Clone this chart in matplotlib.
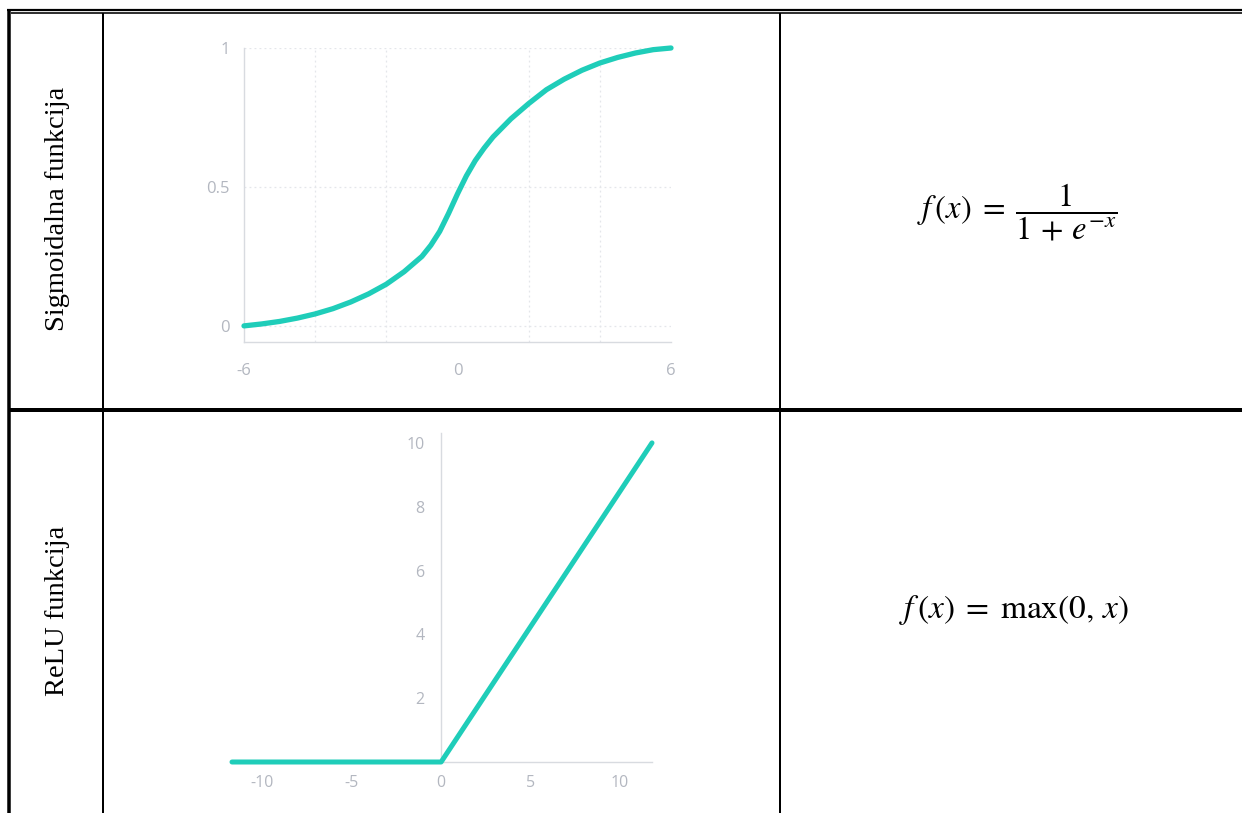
import matplotlib
matplotlib.use("Agg")
from matplotlib import pyplot as plt
from matplotlib.lines import Line2D

# values
sig_x = [-6, -5.5, -5, -4.5, -4, -3.5, -3, -2.5, -2, -1.5, -1, -0.75, -0.5, -0.25, 0,
         0.25, 0.5, 0.75, 1, 1.5, 2, 2.5, 3, 3.5, 4, 4.5, 5, 5.5, 6]
sig_y = [0.0, 0.007, 0.016, 0.028, 0.043, 0.062, 0.086, 0.115, 0.15, 0.195, 0.25, 0.29, 0.34, 0.405, 0.475,
         0.54, 0.595, 0.64, 0.68, 0.745, 0.8, 0.85, 0.888, 0.92, 0.946, 0.966, 0.982, 0.994, 1.0]
sig_xticks = [-6, 0, 6]
sig_yticks = [0, 0.5, 1]
sig_ytick_labels = ["0", "0.5", "1"]
sig_grid_x = [-4, -2, 0, 2, 4]

relu_x = [-11.7, 0, 11.8]
relu_y = [0, 0, 10]
relu_xticks = [-10, -5, 0, 5, 10]
relu_yticks = [2, 4, 6, 8, 10]

row_names = ["Sigmoidalna funkcija", "ReLU funkcija"]
formulas = [r"$f\,(x)\;=\;\dfrac{1}{1\,+\,e^{-x}}$", r"$f\,(x)\;=\;\max(0,\,x)$"]

W, H = 1242, 813
teal = "#1fcdb9"
tick_col = "#b3b7c0"
spine_col = "#d8dbe0"

plt.rcParams["mathtext.fontset"] = "stix"
plt.rcParams["axes.unicode_minus"] = False

fig = plt.figure(figsize=(W / 100, H / 100), dpi=100)


def fx(px):
    return px / W


def fy(py):
    return 1 - py / H


def hline(y, x0, x1, lw):
    fig.add_artist(Line2D([fx(x0), fx(x1)], [fy(y), fy(y)], color="black", lw=lw * 0.72,
                          solid_capstyle="butt"))


def vline(x, y0, y1, lw):
    fig.add_artist(Line2D([fx(x), fx(x)], [fy(y0), fy(y1)], color="black", lw=lw * 0.72,
                          solid_capstyle="butt"))


# table borders
hline(10, 7, W, 2.2)
hline(13.3, 11, W, 1.6)
vline(9.2, 9, H, 3.5)
vline(103, 13, H, 2)
vline(780, 13, H, 2)
hline(410, 9, W, 4)

# sigmoid panel
ax1 = fig.add_axes([fx(244), fy(342), fx(671) - fx(244), fy(48) - fy(342)])
ax1.plot(sig_x, sig_y, color=teal, lw=3.8, solid_capstyle="round", solid_joinstyle="round",
         clip_on=False, zorder=3)
ax1.set_xlim(-6, 6)
ax1.set_ylim(-0.058, 1.0)
ax1.set_xticks(sig_xticks)
ax1.set_xticks(sig_grid_x, minor=True)
ax1.set_yticks(sig_yticks)
ax1.set_yticklabels(sig_ytick_labels)
ax1.grid(which="minor", axis="x", color="#e4e6ea", lw=0.9, ls=(0, (1.5, 2.5)))
ax1.grid(which="major", axis="y", color="#e4e6ea", lw=0.9, ls=(0, (1.5, 2.5)))
ax1.tick_params(which="both", length=0)
ax1.tick_params(axis="x", pad=15, labelsize=12, labelcolor=tick_col)
ax1.tick_params(axis="y", pad=10, labelsize=12, labelcolor=tick_col)
for s in ["top", "right"]:
    ax1.spines[s].set_visible(False)
for s in ["left", "bottom"]:
    ax1.spines[s].set_color(spine_col)
    ax1.spines[s].set_linewidth(1.0)
for lab in ax1.get_xticklabels() + ax1.get_yticklabels():
    lab.set_family("Open Sans")

# relu panel
ax2 = fig.add_axes([fx(232), fy(762), fx(652) - fx(232), fy(433) - fy(762)])
ax2.plot(relu_x, relu_y, color=teal, lw=3.6, solid_capstyle="round", clip_on=False, zorder=3)
ax2.set_xlim(-11.7, 11.8)
ax2.set_ylim(0, 10.31)
ax2.set_xticks(relu_xticks)
ax2.set_yticks(relu_yticks)
ax2.spines["left"].set_position(("data", 0))
for s in ["top", "right"]:
    ax2.spines[s].set_visible(False)
for s in ["left", "bottom"]:
    ax2.spines[s].set_color(spine_col)
    ax2.spines[s].set_linewidth(1.0)
ax2.tick_params(length=0)
ax2.tick_params(axis="x", pad=9, labelsize=11.5, labelcolor=tick_col)
ax2.tick_params(axis="y", pad=12, labelsize=11.5, labelcolor=tick_col)
for lab in ax2.get_xticklabels() + ax2.get_yticklabels():
    lab.set_family("Open Sans")

# row names
fig.text(fx(57), fy(209), row_names[0], rotation=90, ha="center", va="center",
         family="Liberation Serif", fontsize=20.5)
fig.text(fx(57), fy(611), row_names[1], rotation=90, ha="center", va="center",
         family="Liberation Serif", fontsize=20.5)

# formulas
fig.text(fx(1017), fy(212), formulas[0], ha="center", va="center", fontsize=23.5)
fig.text(fx(1014), fy(610), formulas[1], ha="center", va="center", fontsize=24)

fig.savefig("out.png", dpi=100)
